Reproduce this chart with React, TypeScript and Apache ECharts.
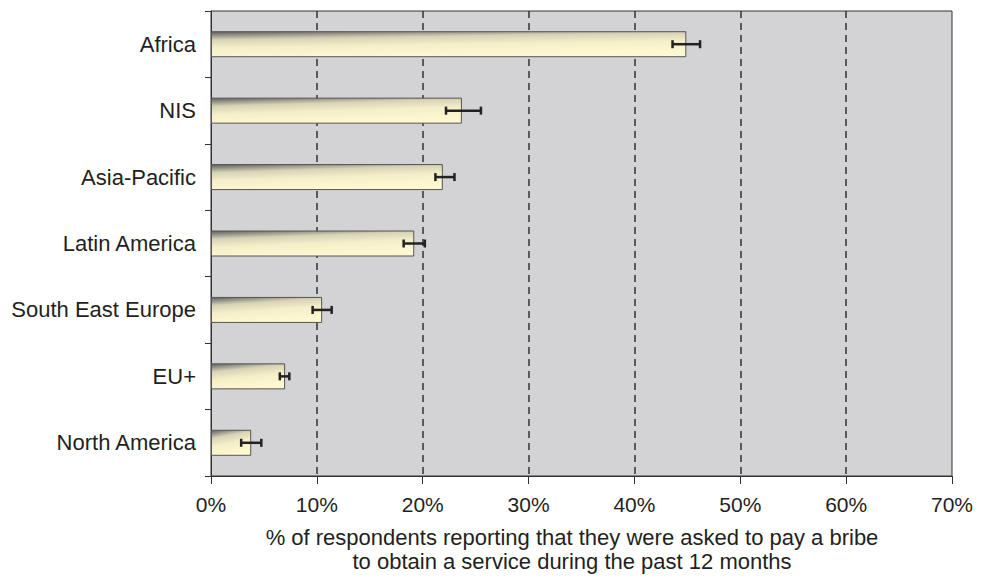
import React, { useEffect, useRef } from "react";
import * as echarts from "echarts";

const categories = ["Africa", "NIS", "Asia-Pacific", "Latin America", "South East Europe", "EU+", "North America"];
const values = [44.9, 23.7, 21.9, 19.2, 10.5, 7.0, 3.8];
const errLow = [43.6, 22.2, 21.2, 18.2, 9.6, 6.5, 2.85];
const errHigh = [46.2, 25.5, 23.0, 20.2, 11.4, 7.4, 4.75];
const xTicks = [0, 10, 20, 30, 40, 50, 60, 70];
const axisTitle = "% of respondents reporting that they were asked to pay a bribe\nto obtain a service during the past 12 months";

export default function App() {
  const ref = useRef<HTMLDivElement>(null);
  useEffect(() => {
    if (!ref.current) return;
    const chart = echarts.init(ref.current, null, { renderer: "svg" });
    const font = "'Liberation Sans', Arial, Helvetica, sans-serif";
    const textColor = "#231f20";
    const barFill = new echarts.graphic.LinearGradient(0, 0, 0.3, 1, [
      { offset: 0, color: "#5e5e5e" },
      { offset: 0.3, color: "#d6d2b6" },
      { offset: 0.6, color: "#f4efc8" },
      { offset: 1, color: "#fdf8d0" },
    ]);
    const errData = categories.map((_, i) => [i, errLow[i], errHigh[i]]);
    chart.setOption({
      animation: false,
      backgroundColor: "#ffffff",
      textStyle: { fontFamily: font },
      grid: {
        left: 211, top: 11, right: 32, bottom: 103,
        show: true, backgroundColor: "#d3d3d5", borderColor: "#333", borderWidth: 1,
      },
      xAxis: {
        type: "value",
        min: xTicks[0],
        max: xTicks[xTicks.length - 1],
        interval: 10,
        axisLine: { show: true, lineStyle: { color: "#333", width: 1 } },
        axisTick: { show: true, length: 8, lineStyle: { color: "#333", width: 1 } },
        axisLabel: { formatter: "{value}%", fontSize: 21, color: textColor, fontFamily: font, margin: 18 },
        splitLine: {
          show: true, showMinLine: false, showMaxLine: false,
          lineStyle: { color: "#333", width: 1.5, type: [7, 5] },
        },
      },
      yAxis: {
        type: "category",
        data: categories,
        inverse: true,
        axisLine: { show: true, lineStyle: { color: "#333", width: 1 } },
        axisTick: { show: true, length: 6, lineStyle: { color: "#333", width: 1 } },
        axisLabel: { fontSize: 22, color: textColor, fontFamily: font, margin: 15 },
        splitLine: { show: false },
      },
      graphic: [
        {
          type: "text",
          x: 572,
          y: 525,
          style: {
            text: axisTitle,
            fontSize: 22,
            lineHeight: 24,
            fill: textColor,
            fontFamily: font,
            textAlign: "center",
          },
        },
      ],
      series: [
        {
          type: "bar",
          data: values,
          barWidth: 26,
          itemStyle: { color: barFill, borderColor: "#555", borderWidth: 1 },
          z: 2,
        },
        {
          type: "custom",
          data: errData,
          encode: { x: [1, 2], y: 0 },
          z: 3,
          renderItem: (params: any, api: any) => {
            const idx = api.value(0);
            const p1 = api.coord([api.value(1), idx]);
            const p2 = api.coord([api.value(2), idx]);
            const h = 4;
            const style = { stroke: "#222", lineWidth: 2.5 };
            return {
              type: "group",
              children: [
                { type: "line", shape: { x1: p1[0], y1: p1[1], x2: p2[0], y2: p2[1] }, style },
                { type: "line", shape: { x1: p1[0], y1: p1[1] - h, x2: p1[0], y2: p1[1] + h }, style },
                { type: "line", shape: { x1: p2[0], y1: p2[1] - h, x2: p2[0], y2: p2[1] + h }, style },
              ],
            };
          },
        },
      ],
    });
    return () => chart.dispose();
  }, []);
  return (
    <div
      ref={ref}
      style={{ position: "fixed", left: 0, top: 0, width: 984, height: 579 }}
    />
  );
}
